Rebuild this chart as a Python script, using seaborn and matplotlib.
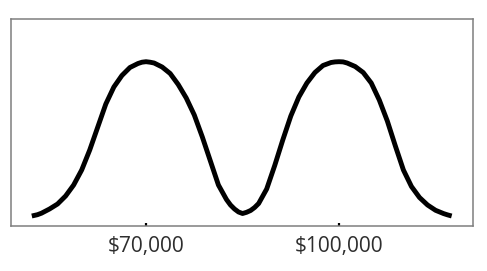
import matplotlib
matplotlib.use("Agg")
import matplotlib.pyplot as plt
import seaborn as sns
import pandas as pd

# Income values (dollars) and relative density heights
income = [52250, 53125, 53750, 55000, 56250, 57500, 58750, 60000, 61250, 62500, 63750,
          65000, 66250, 67500, 68750, 69375, 70000, 70625, 71250, 72500, 73750, 75000, 76250,
          77500, 78750, 80000, 81250, 82500, 83125, 83750, 84375, 85000, 85625, 86250,
          86875, 87500, 88750,
          90000, 91250, 92500, 93750, 95000, 96250, 97500, 98750, 99375, 100000, 100625,
          101250, 102500, 103750, 105000, 106250, 107500, 108750, 110000, 111250,
          112500, 113750, 115000, 116250, 116875, 117500]
density = [10.0, 11.3, 12.8, 17, 22, 30, 41, 56, 76, 99, 122,
           139, 150.5, 158.5, 162.5, 163.8, 164.3, 163.8, 163, 159, 152.5, 141.5, 128,
           111, 89, 65, 41, 26.5, 21, 17, 14, 12.5, 13.7, 15.5,
           18.5, 22.5, 37,
           60.5, 86, 110, 129, 143, 153.5, 160.5, 163.5, 164.1, 164.3, 164.1,
           163, 159.5, 153.5, 143, 126, 105, 80, 56, 39.5,
           28.5, 21, 15.7, 12.4, 11.1, 10]

tick_values = [70000, 100000]
tick_labels = ["$70,000", "$100,000"]

df = pd.DataFrame({"income": income, "density": density})

sns.set_theme(style="white")
plt.rcParams["font.family"] = ["Open Sans", "DejaVu Sans"]

fig = plt.figure(figsize=(4.87, 2.71), dpi=100)
ax = fig.add_axes([11 / 487, 45 / 271, 462 / 487, 207 / 271])

sns.lineplot(data=df, x="income", y="density", ax=ax, color="black",
             linewidth=3.5, solid_capstyle="butt", solid_joinstyle="round")

ax.set_xlim(49014, 120815)
ax.set_ylim(0, 207)
ax.set_xticks(tick_values)
ax.set_xticklabels(tick_labels)
ax.set_yticks([])
ax.set_xlabel("")
ax.set_ylabel("")
ax.tick_params(axis="x", direction="in", length=2.4, width=1.6, color="black",
               labelsize=15, labelcolor="#2e2e2e", pad=7.5, bottom=True)
for s in ax.spines.values():
    s.set_visible(True)
    s.set_color("#7f7f7f")
    s.set_linewidth(1.1)

fig.savefig("out.png", dpi=100, facecolor="white")
